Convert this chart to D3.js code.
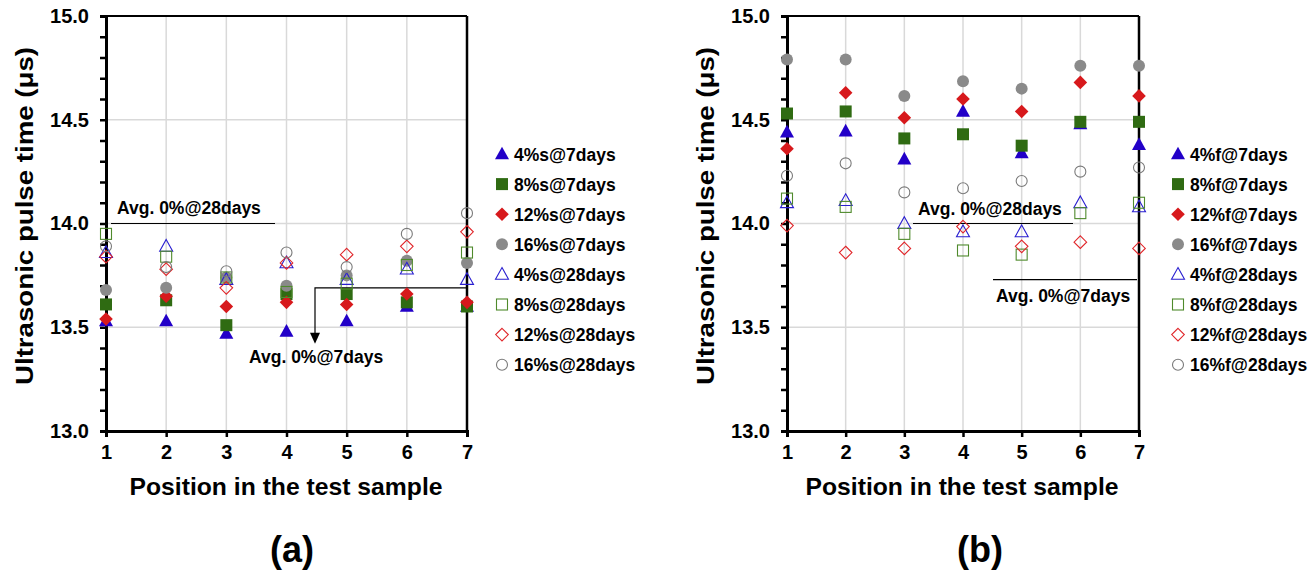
<!DOCTYPE html>
<html><head><meta charset="utf-8">
<script src="https://cdn.jsdelivr.net/npm/d3@7"></script>
<style>body{margin:0;background:#fff;} text{font-family:Arial,"Liberation Sans",sans-serif;font-weight:bold;}</style>
</head><body>
<svg id="c" width="1315" height="573"></svg>
<script>
// ---- data ----
const positions = [1, 2, 3, 4, 5, 6, 7];
const yTicksMajor = [13.0, 13.5, 14.0, 14.5, 15.0];

const labelsA = ["4%s@7days","8%s@7days","12%s@7days","16%s@7days","4%s@28days","8%s@28days","12%s@28days","16%s@28days"];
const labelsB = ["4%f@7days","8%f@7days","12%f@7days","16%f@7days","4%f@28days","8%f@28days","12%f@28days","16%f@28days"];

// panel (a)
const a_4s7  = [13.53, 13.53, 13.47, 13.48, 13.53, 13.60, 13.60];
const a_8s7  = [13.61, 13.63, 13.51, 13.66, 13.66, 13.62, 13.60];
const a_12s7 = [13.54, 13.65, 13.60, 13.62, 13.61, 13.66, 13.62];
const a_16s7 = [13.68, 13.69, 13.74, 13.70, 13.75, 13.82, 13.81];
const a_4s28 = [13.86, 13.89, 13.73, 13.81, 13.73, 13.78, 13.73];
const a_8s28 = [13.95, 13.84, 13.74, 13.67, 13.71, 13.80, 13.86];
const a_12s28= [13.84, 13.78, 13.69, 13.81, 13.85, 13.89, 13.96];
const a_16s28= [13.89, 13.79, 13.77, 13.86, 13.79, 13.95, 14.05];

// panel (b)
const b_4f7  = [14.44, 14.445, 14.31, 14.54, 14.34, 14.48, 14.38];
const b_8f7  = [14.53, 14.54, 14.41, 14.43, 14.375, 14.49, 14.49];
const b_12f7 = [14.36, 14.63, 14.51, 14.60, 14.54, 14.68, 14.615];
const b_16f7 = [14.79, 14.79, 14.615, 14.685, 14.65, 14.76, 14.76];
const b_4f28 = [14.10, 14.11, 14.00, 13.96, 13.96, 14.10, 14.08];
const b_8f28 = [14.12, 14.08, 13.95, 13.87, 13.85, 14.05, 14.10];
const b_12f28= [13.99, 13.86, 13.88, 13.985, 13.89, 13.91, 13.88];
const b_16f28= [14.23, 14.29, 14.15, 14.17, 14.205, 14.25, 14.27];

// reference lines (averages of 0%)
const avgA28 = 14.00, avgA7 = 13.69;
const avgB28 = 14.00, avgB7 = 13.73;

const styles = [
  {shape:"triangle", fill:"#2200c8", stroke:"none"},
  {shape:"square",   fill:"#2f6b12", stroke:"none"},
  {shape:"diamond",  fill:"#d7191c", stroke:"none"},
  {shape:"circle",   fill:"#8a8a8a", stroke:"none"},
  {shape:"triangle", fill:"none", stroke:"#2a1fd0"},
  {shape:"square",   fill:"none", stroke:"#4f8a2c"},
  {shape:"diamond",  fill:"none", stroke:"#e0262a"},
  {shape:"circle",   fill:"none", stroke:"#7a7a7a"}
];

const svg = d3.select("#c");

function marker(g, st, x, y) {
  const filled = st.fill !== "none";
  let el;
  if (st.shape === "triangle") {
    const s = filled ? 7 : 6.5;
    el = g.append("path").attr("d", `M${x},${y - s * 1.05}L${x + s},${y + s * 0.75}L${x - s},${y + s * 0.75}Z`);
  } else if (st.shape === "square") {
    const s = filled ? 6 : 5.5;
    el = g.append("rect").attr("x", x - s).attr("y", y - s).attr("width", 2 * s).attr("height", 2 * s);
  } else if (st.shape === "diamond") {
    const s = filled ? 6.8 : 6.3;
    el = g.append("path").attr("d", `M${x},${y - s}L${x + s},${y}L${x},${y + s}L${x - s},${y}Z`);
  } else {
    el = g.append("circle").attr("cx", x).attr("cy", y).attr("r", filled ? 6 : 5.5);
  }
  el.attr("fill", st.fill).attr("stroke", st.stroke).attr("stroke-width", filled ? 0 : 1.1);
}

function panel(cfg) {
  const x = d3.scaleLinear().domain([1, 7]).range([cfg.left, cfg.right]);
  const y = d3.scaleLinear().domain([13, 15]).range([431, 16]);
  const g = svg.append("g");

  // grid
  g.append("g").selectAll("line.v").data(positions.slice(1, 6)).join("line")
    .attr("x1", d => x(d)).attr("x2", d => x(d)).attr("y1", y(15)).attr("y2", y(13))
    .attr("stroke", "#d9d9d9").attr("stroke-width", 1.5);
  g.append("g").selectAll("line.h").data([13.5, 14.0, 14.5]).join("line")
    .attr("x1", x(1)).attr("x2", x(7)).attr("y1", d => y(d)).attr("y2", d => y(d))
    .attr("stroke", "#d9d9d9").attr("stroke-width", 1.5);

  // frame top/right
  g.append("line").attr("x1", x(1)).attr("x2", x(7)).attr("y1", y(15)).attr("y2", y(15)).attr("stroke", "#000").attr("stroke-width", 2);
  g.append("line").attr("x1", x(7)).attr("x2", x(7)).attr("y1", y(15)).attr("y2", y(13)).attr("stroke", "#000").attr("stroke-width", 2.5);

  // axes
  const yMinor = d3.range(130, 151).map(v => v / 10);
  const ya = g.append("g").attr("transform", `translate(${x(1)},0)`)
    .call(d3.axisLeft(y).tickValues(yMinor).tickSize(6)
      .tickFormat(d => yTicksMajor.some(m => Math.abs(m - d) < 1e-6) ? d3.format(".1f")(d) : ""));
  ya.select(".domain").attr("stroke-width", 3);
  ya.selectAll(".tick line").attr("stroke-width", 2.5);
  ya.selectAll(".tick text").attr("font-size", 20).attr("x", -17).attr("fill", "#000");

  const xa = g.append("g").attr("transform", `translate(0,${y(13)})`)
    .call(d3.axisBottom(x).tickValues(positions).tickSize(6).tickFormat(d3.format("d")));
  xa.select(".domain").attr("stroke-width", 3);
  xa.selectAll(".tick line").attr("stroke-width", 2.5);
  xa.selectAll(".tick text").attr("font-size", 20).attr("y", 14).attr("fill", "#000");

  // titles
  g.append("text").attr("x", cfg.xTitleX).attr("y", 495).attr("text-anchor", "middle")
    .attr("font-size", 24).attr("textLength", 313).attr("lengthAdjust", "spacingAndGlyphs")
    .text("Position in the test sample");
  g.append("text").attr("transform", `translate(${cfg.left - 73},216) rotate(-90)`)
    .attr("text-anchor", "middle").attr("font-size", 24.5)
    .attr("textLength", 338).attr("lengthAdjust", "spacingAndGlyphs")
    .text("Ultrasonic pulse time (μs)");
  g.append("text").attr("x", cfg.panelX).attr("y", 562).attr("text-anchor", "middle")
    .attr("font-size", 36).text(cfg.panelLabel);

  // annotations
  cfg.annot(g, x, y);

  // points
  cfg.series.forEach((vals, i) => {
    const sg = g.append("g");
    vals.forEach((v, j) => marker(sg, styles[i], x(positions[j]), y(v)));
  });

  // legend
  cfg.labels.forEach((lab, i) => {
    const ly = 154 + i * 30.1;
    marker(g, styles[i], cfg.legX, ly);
    g.append("text").attr("x", cfg.legX + 12).attr("y", ly + 6.5).attr("font-size", 17.5).text(lab);
  });
}

panel({
  left: 106, right: 467, panelX: 292, xTitleX: 286, panelLabel: "(a)", legX: 502,
  labels: labelsA,
  series: [a_4s7, a_8s7, a_12s7, a_16s7, a_4s28, a_8s28, a_12s28, a_16s28],
  annot: (g, x, y) => {
    g.append("line").attr("x1", 111).attr("x2", 275).attr("y1", y(avgA28)).attr("y2", y(avgA28)).attr("stroke", "#000").attr("stroke-width", 1.2);
    g.append("text").attr("x", 117).attr("y", y(avgA28) - 10).attr("font-size", 17.5).text("Avg. 0%@28days");
    const ax = 315;
    g.append("path").attr("d", `M${x(7)},${y(avgA7)}L${ax},${y(avgA7)}L${ax},${y(avgA7) + 46}`)
      .attr("fill", "none").attr("stroke", "#000").attr("stroke-width", 1.2);
    g.append("path").attr("d", `M${ax - 5},${y(avgA7) + 45}L${ax + 5},${y(avgA7) + 45}L${ax},${y(avgA7) + 56}Z`).attr("fill", "#000");
    g.append("text").attr("x", 249).attr("y", 363).attr("font-size", 17.5).text("Avg. 0%@7days");
  }
});

panel({
  left: 787, right: 1139, panelX: 980, xTitleX: 962, panelLabel: "(b)", legX: 1178,
  labels: labelsB,
  series: [b_4f7, b_8f7, b_12f7, b_16f7, b_4f28, b_8f28, b_12f28, b_16f28],
  annot: (g, x, y) => {
    g.append("line").attr("x1", 913).attr("x2", 1073).attr("y1", y(avgB28)).attr("y2", y(avgB28)).attr("stroke", "#000").attr("stroke-width", 1.2);
    g.append("text").attr("x", 918).attr("y", y(avgB28) - 9).attr("font-size", 17.5).text("Avg. 0%@28days");
    g.append("line").attr("x1", 993).attr("x2", 1137).attr("y1", y(avgB7)).attr("y2", y(avgB7)).attr("stroke", "#000").attr("stroke-width", 1.2);
    g.append("text").attr("x", 996).attr("y", y(avgB7) + 22).attr("font-size", 17.5).text("Avg. 0%@7days");
  }
});
</script>
</body></html>
